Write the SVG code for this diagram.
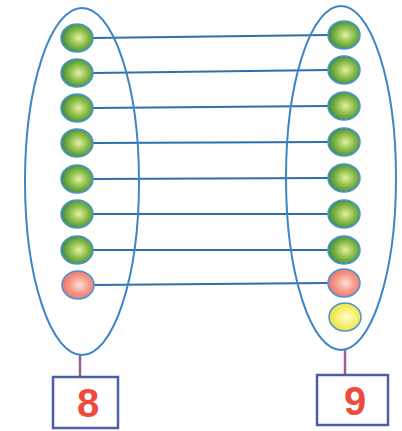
<svg xmlns="http://www.w3.org/2000/svg" width="402" height="431" viewBox="0 0 402 431">
<style>
.ring{fill:none;stroke:#3d86c6;stroke-width:2}
.link{stroke:#2f6fae;stroke-width:2}
.dot{stroke:#4b95cf;stroke-width:1.5}
.g{fill:url(#gG)}
.r{fill:url(#gR)}
.y{fill:url(#gY)}
.stem{stroke:#9a5c9c;stroke-width:2.5}
.box{fill:#fff;stroke:#4a5fa8;stroke-width:2.5}
.num{font-family:"Liberation Sans",Arial,sans-serif;font-weight:bold;font-size:40px;fill:#ef4a3c;text-anchor:middle}
</style>
<defs>
<radialGradient id="gG" cx="0.55" cy="0.5" r="0.6">
<stop offset="0" stop-color="#e6f0a8"/><stop offset="0.45" stop-color="#8fc04c"/><stop offset="1" stop-color="#2f7d3a"/>
</radialGradient>
<radialGradient id="gR" cx="0.55" cy="0.5" r="0.6">
<stop offset="0" stop-color="#fde0d8"/><stop offset="0.5" stop-color="#f79a8a"/><stop offset="1" stop-color="#e56b6b"/>
</radialGradient>
<radialGradient id="gY" cx="0.55" cy="0.5" r="0.6">
<stop offset="0" stop-color="#fffbd0"/><stop offset="0.5" stop-color="#f6f070"/><stop offset="1" stop-color="#e4dc3a"/>
</radialGradient>
</defs>
<g id="connectors">
<line class="link" x1="93" y1="38" x2="328" y2="35"/>
<line class="link" x1="93" y1="73" x2="328" y2="70"/>
<line class="link" x1="93" y1="108" x2="328" y2="106"/>
<line class="link" x1="93" y1="143" x2="328" y2="142"/>
<line class="link" x1="93" y1="179" x2="328" y2="178"/>
<line class="link" x1="93" y1="214" x2="328" y2="214"/>
<line class="link" x1="93" y1="250" x2="328" y2="250"/>
<line class="link" x1="93" y1="285" x2="328" y2="283"/>
<line class="stem" x1="80" y1="355" x2="80" y2="377"/>
<line class="stem" x1="345" y1="350" x2="345" y2="375"/>
</g>
<g id="set-left">
<ellipse class="ring" cx="82" cy="181.5" rx="57" ry="173.5"/>
<ellipse class="dot g" cx="77" cy="38" rx="16" ry="14"/>
<ellipse class="dot g" cx="77" cy="73" rx="16" ry="14"/>
<ellipse class="dot g" cx="77" cy="108" rx="16" ry="14"/>
<ellipse class="dot g" cx="77" cy="143" rx="16" ry="14"/>
<ellipse class="dot g" cx="77" cy="179" rx="16" ry="14"/>
<ellipse class="dot g" cx="77" cy="214" rx="16" ry="14"/>
<ellipse class="dot g" cx="77" cy="250" rx="16" ry="14"/>
<ellipse class="dot r" cx="78" cy="285" rx="16" ry="14"/>
</g>
<g id="set-right">
<ellipse class="ring" cx="341" cy="178" rx="55" ry="172"/>
<ellipse class="dot g" cx="344" cy="35" rx="16" ry="14"/>
<ellipse class="dot g" cx="344" cy="70" rx="16" ry="14"/>
<ellipse class="dot g" cx="344" cy="106" rx="16" ry="14"/>
<ellipse class="dot g" cx="344" cy="142" rx="16" ry="14"/>
<ellipse class="dot g" cx="344" cy="178" rx="16" ry="14"/>
<ellipse class="dot g" cx="344" cy="214" rx="16" ry="14"/>
<ellipse class="dot g" cx="344" cy="250" rx="16" ry="14"/>
<ellipse class="dot r" cx="344" cy="283" rx="16" ry="14"/>
<ellipse class="dot y" cx="345" cy="317" rx="16" ry="14"/>
</g>
<g id="count-left">
<rect class="box" x="53" y="377" width="65" height="51"/>
<text class="num" x="88" y="417">8</text>
</g>
<g id="count-right">
<rect class="box" x="317" y="375" width="71" height="50"/>
<text class="num" x="355" y="415">9</text>
</g>
</svg>
